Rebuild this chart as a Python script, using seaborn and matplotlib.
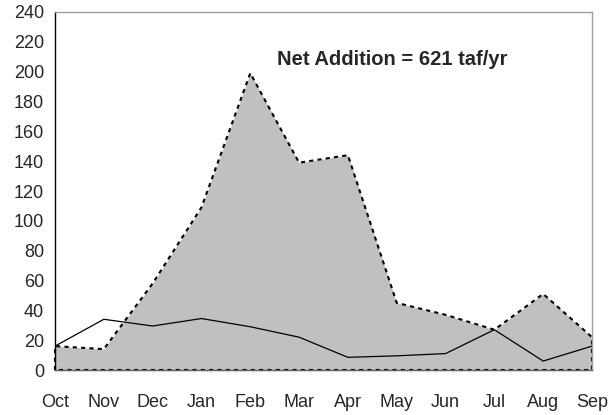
import matplotlib
matplotlib.use("Agg")
import matplotlib.pyplot as plt
import seaborn as sns
import pandas as pd
import numpy as np

months = ["Oct", "Nov", "Dec", "Jan", "Feb", "Mar", "Apr", "May", "Jun", "Jul", "Aug", "Sep"]
addition = [16, 14, 58, 109, 199, 139, 144, 45, 37, 27, 51, 22]
baseline = [16, 34, 29.5, 34.5, 29, 22, 8.5, 9.5, 11, 27, 6, 16]
yticks = list(range(0, 241, 20))
annotation = "Net Addition = 621 taf/yr"

sns.set_style("white")
plt.rcParams["font.family"] = ["Liberation Sans", "DejaVu Sans"]

df = pd.DataFrame({"month": months, "addition": addition, "baseline": baseline})
df["pos"] = np.arange(len(months))

fig = plt.figure(figsize=(6.11, 4.15), dpi=100)
ax = fig.add_axes([55 / 611, 1 - 370 / 415, (592 - 55) / 611, (370 - 12) / 415])

# shaded addition area with dashed outline
ax.fill_between(df["pos"], 0, df["addition"], color="#c0c0c0", linewidth=0, zorder=1)
outline_x = [df["pos"].iloc[0]] + list(df["pos"]) + [df["pos"].iloc[-1], df["pos"].iloc[0]]
outline_y = [0] + list(df["addition"]) + [0, 0]
ax.plot(outline_x, outline_y, color="black", linestyle=(0, (2.0, 2.0)), linewidth=1.5,
        zorder=2, clip_on=False)

sns.lineplot(data=df, x="pos", y="baseline", color="black", linewidth=0.9, ax=ax, zorder=3)

ax.set_xlim(0, len(months) - 1)
ax.set_ylim(0, 240)
ax.set_xticks(df["pos"])
ax.set_xticklabels(months)
ax.set_yticks(yticks)
ax.set_xlabel("")
ax.set_ylabel("")
ax.tick_params(axis="both", labelsize=13, length=5, width=1, color="black", direction="out")
ax.tick_params(axis="x", pad=12)
ax.tick_params(axis="y", pad=3)

ax.spines["left"].set_color("black")
ax.spines["left"].set_linewidth(1)
ax.spines["bottom"].set_color("#606060")
ax.spines["bottom"].set_linewidth(1)
for side in ["top", "right"]:
    ax.spines[side].set_color("#a0a0a0")
    ax.spines[side].set_linewidth(1)

ax.text(6.9, 208, annotation, fontsize=14.5, fontweight="bold", ha="center", va="center", zorder=4)

fig.savefig("out.png", dpi=100)
